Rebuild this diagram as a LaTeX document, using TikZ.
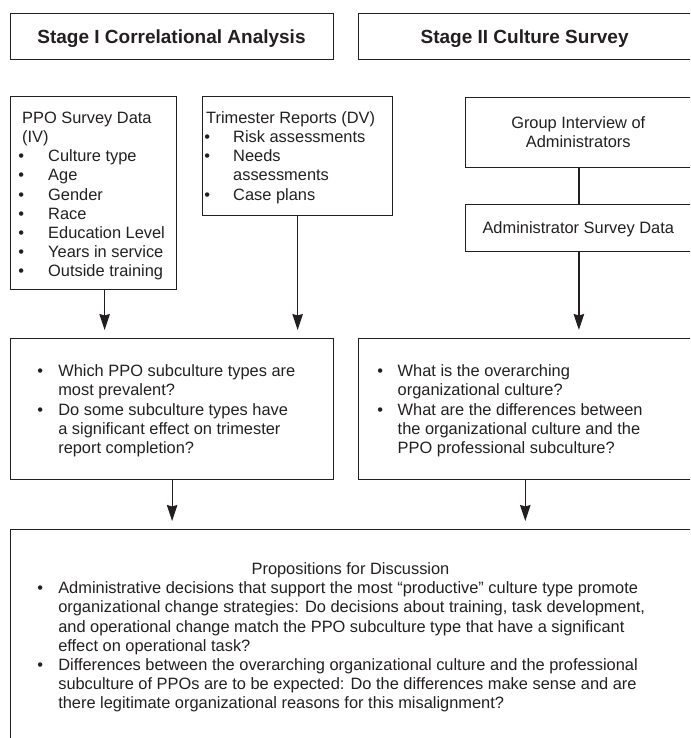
\documentclass[tikz,border=0pt]{standalone}
\usepackage{fontspec}
\setmainfont{Liberation Sans}
\usetikzlibrary{arrows.meta}
\definecolor{ink}{RGB}{35,31,32}
% body and heading type
\newcommand\bodyfont{\fontsize{16.4}{19.2}\selectfont}
\newcommand\headfont{\fontsize{19}{22}\selectfont\bfseries}
% bullet: #1 = shift of the dot, #2 = indent of the item text
\newcommand\bu[2]{\makebox[#2][l]{\hspace*{#1}\textbullet}}
\begin{document}
\begin{tikzpicture}[x=1pt,y=-1pt,
  box/.style={draw=ink, line width=1.3pt, inner sep=0pt, anchor=north west},
  body/.style={inner sep=0pt, anchor=north west, align=left, font=\bodyfont, text=ink},
  label/.style={inner sep=0pt, font=\bodyfont, text=ink},
  head/.style={inner sep=0pt, anchor=base, font=\headfont, text=ink},
  link/.style={draw=ink, line width=1.3pt},
  arr/.style={link, -{Stealth[length=16pt,width=10.5pt,inset=1.5pt]}, shorten >=8pt}]
\useasboundingbox (0,0) rectangle (690,738);
\clip (0,0) rectangle (690,738);

% stage headers
\node[box, minimum width=323pt, minimum height=46pt] (s1) at (10,13) {};
\node[box, minimum width=333.7pt, minimum height=46pt] (s2) at (357.8,13) {};
\node[head] (s1t) at (171.5,44) {Stage I Correlational Analysis};
\node[head] (s2t) at (524.6,44) {Stage II Culture Survey};

% data sources
\node[box, minimum width=166pt, minimum height=193pt] (ppo) at (10,96) {};
\node[box, minimum width=190pt, minimum height=119pt] (trim) at (202,96) {};
\node[box, minimum width=226.5pt, minimum height=70pt] (grp) at (465,97) {};
\node[box, minimum width=226.5pt, minimum height=47pt] (adm) at (465,204) {};

\node[body] (ppot) at (22,109.6) {\strut PPO Survey Data\\(IV)\\
  \bu{-3.9pt}{26pt}Culture type\\
  \bu{-3.9pt}{26pt}Age\\
  \bu{-3.9pt}{26pt}Gender\\
  \bu{-3.9pt}{26pt}Race\\
  \bu{-3.9pt}{26pt}Education Level\\
  \bu{-3.9pt}{26pt}Years in service\\
  \bu{-3.9pt}{26pt}Outside training};
\node[body] (trimt) at (206,109.6) {\strut Trimester Reports (DV)\\
  \bu{-1.9pt}{27pt}Risk assessments\\
  \bu{-1.9pt}{27pt}Needs\\
  \hspace*{27pt}assessments\\
  \bu{-1.9pt}{27pt}Case plans};
\node[label, align=center, anchor=north] (grpt) at (578.25,115) {\strut Group Interview of\\Administrators};
\node[label, anchor=base] (admt) at (578.25,233.5) {Administrator Survey Data};

% research questions
\node[box, minimum width=323pt, minimum height=141pt] (q1) at (10,338) {};
\node[box, minimum width=333.7pt, minimum height=141pt] (q2) at (357.8,338) {};
\node[body] (q1t) at (37.1,363.1) {\strut\bu{0pt}{21pt}Which PPO subculture types are\\
  \hspace*{21pt}most prevalent?\\
  \bu{0pt}{21pt}Do some subculture types have\\
  \hspace*{21pt}a significant effect on trimester\\
  \hspace*{21pt}report completion?};
\node[body] (q2t) at (377.1,363.1) {\strut\bu{0pt}{20.4pt}What is the overarching\\
  \hspace*{20.4pt}organizational culture?\\
  \bu{0pt}{20.4pt}What are the differences between\\
  \hspace*{20.4pt}the organizational culture and the\\
  \hspace*{20.4pt}PPO professional subculture?};

% propositions
\node[box, minimum width=681.5pt, minimum height=214pt] (prop) at (10,529) {};
\node[label, anchor=base] (propt) at (350.5,574.3) {Propositions for Discussion};
\node[body] (propl) at (37.1,580.1) {\strut\bu{0pt}{21pt}Administrative decisions that support the most “productive” culture type promote\\
  \hspace*{21pt}organizational change strategies: Do decisions about training, task development,\\
  \hspace*{21pt}and operational change match the PPO subculture type that have a significant\\
  \hspace*{21pt}effect on operational task?\\
  \bu{0pt}{21pt}Differences between the overarching organizational culture and the professional\\
  \hspace*{21pt}subculture of PPOs are to be expected: Do the differences make sense and are\\
  \hspace*{21pt}there legitimate organizational reasons for this misalignment?};

% connectors
\coordinate (a1) at ([xshift=11pt]ppo.south);
\draw[arr] (a1) -- (a1 |- q1.north);
\draw[arr] (trim) -- (trim |- q1.north);
\draw[link] (grp) -- (adm);
\draw[arr] (adm) -- (adm |- q2.north);
\draw[arr] (q1) -- (q1 |- prop.north);
\draw[arr] (q2) -- (q2 |- prop.north);
\end{tikzpicture}
\end{document}
